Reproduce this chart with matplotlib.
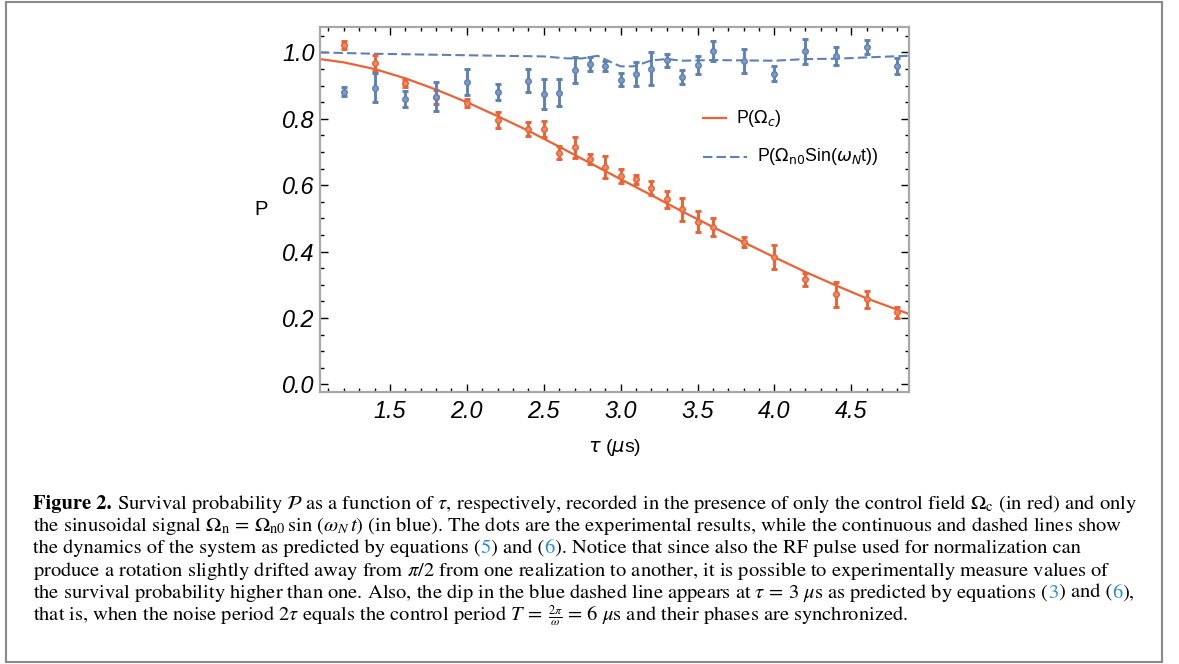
import matplotlib
matplotlib.use('Agg')
import matplotlib.pyplot as plt
from matplotlib.patches import Rectangle
from matplotlib.lines import Line2D
from matplotlib.ticker import MultipleLocator

# Measured points (tau in us), shared by both data sets
tau = [1.2, 1.4, 1.6, 1.8, 2.0, 2.2, 2.4, 2.5, 2.6, 2.7, 2.8, 2.9, 3.0,
       3.1, 3.2, 3.3, 3.4, 3.5, 3.6, 3.8, 4.0, 4.2, 4.4, 4.6, 4.8]

red_p = [1.023, 0.968, 0.908, 0.866, 0.849, 0.797, 0.769, 0.769, 0.698, 0.714, 0.678, 0.654, 0.627,
         0.618, 0.591, 0.558, 0.527, 0.490, 0.475, 0.428, 0.383, 0.317, 0.271, 0.256, 0.217]
red_err = [0.012, 0.023, 0.012, 0.020, 0.012, 0.024, 0.021, 0.024, 0.019, 0.032, 0.015, 0.033, 0.021,
           0.013, 0.021, 0.026, 0.035, 0.032, 0.027, 0.015, 0.036, 0.020, 0.038, 0.026, 0.016]

blue_p = [0.882, 0.894, 0.860, 0.867, 0.910, 0.882, 0.915, 0.875, 0.879, 0.946, 0.965, 0.959, 0.918,
          0.935, 0.951, 0.976, 0.926, 0.961, 1.003, 0.973, 0.936, 1.003, 0.990, 1.016, 0.958]
blue_err = [0.013, 0.043, 0.025, 0.044, 0.039, 0.024, 0.034, 0.046, 0.041, 0.039, 0.022, 0.015, 0.020,
            0.037, 0.050, 0.020, 0.022, 0.027, 0.030, 0.036, 0.023, 0.038, 0.027, 0.021, 0.024]

# Theory curves
red_curve_x = [1.045, 1.2, 1.4, 1.6, 1.8, 2.0, 2.2, 2.4, 2.6, 2.8, 3.0, 3.2, 3.4,
               3.6, 3.8, 4.0, 4.2, 4.4, 4.6, 4.875]
red_curve_y = [0.980, 0.970, 0.950, 0.922, 0.888, 0.850, 0.808, 0.764, 0.716, 0.667, 0.618, 0.570, 0.521,
               0.474, 0.428, 0.383, 0.339, 0.298, 0.259, 0.212]

blue_curve_x = [1.045, 1.4, 1.8, 2.2, 2.5, 2.65, 2.75, 2.85, 2.95, 3.0, 3.08, 3.15, 3.2, 3.3,
                3.4, 3.5, 3.6, 3.8, 4.0, 4.2, 4.4, 4.6, 4.875]
blue_curve_y = [1.000, 0.996, 0.993, 0.990, 0.988, 0.982, 0.982, 0.990, 0.968, 0.958, 0.958, 0.968, 0.976, 0.980,
                0.975, 0.976, 0.977, 0.976, 0.975, 0.980, 0.981, 0.985, 0.990]

xticks = [1.5, 2.0, 2.5, 3.0, 3.5, 4.0, 4.5]
xtick_labels = ['1.5', '2.0', '2.5', '3.0', '3.5', '4.0', '4.5']
yticks = [0.0, 0.2, 0.4, 0.6, 0.8, 1.0]
ytick_labels = ['0.0', '0.2', '0.4', '0.6', '0.8', '1.0']

RED = '#eb6235'
BLUE = '#5e81b5'
LINK = '#2a8fd4'

W, H = 1179, 664
fig = plt.figure(figsize=(W / 100, H / 100), dpi=100)
fig.patch.set_facecolor('white')

# outer frame of the figure block
fig.patches.append(Rectangle((6 / W, 1 - 661.5 / H), 1156 / W, 660 / H,
                             transform=fig.transFigure, fill=False,
                             ec='#8a8a8a', lw=1.5))

ax = fig.add_axes([320 / W, 1 - 392 / H, 589 / W, 365 / H])

ax.plot(red_curve_x, red_curve_y, color=RED, lw=1.6, zorder=2)
ax.plot(blue_curve_x, blue_curve_y, color=BLUE, lw=1.5, dashes=(4.5, 2.0), zorder=2)

ax.errorbar(tau, red_p, yerr=red_err, fmt='o', color=RED, ms=4, mec=RED, mfc='#f08a63',
            elinewidth=2.1, capsize=2.1, capthick=2.1, zorder=3)
ax.errorbar(tau, blue_p, yerr=blue_err, fmt='o', color=BLUE, ms=4, mec=BLUE, mfc='#7f9bc6',
            elinewidth=2.1, capsize=2.1, capthick=2.1, zorder=3)

ax.set_xlim(1.045, 4.875)
ax.set_ylim(-0.023, 1.0766)

tick_font = dict(family='Liberation Sans', fontstyle='italic', fontsize=16.8)
ax.set_xticks(xticks, xtick_labels, **tick_font)
ax.set_yticks(yticks, ytick_labels, **tick_font)
ax.xaxis.set_minor_locator(MultipleLocator(0.1))
ax.yaxis.set_minor_locator(MultipleLocator(0.05))
ax.tick_params(which='both', direction='in', top=True, right=True, color='black', width=1.0)
ax.tick_params(which='major', length=5.5)
ax.tick_params(which='minor', length=2.8)
ax.tick_params(axis='x', pad=6)
ax.tick_params(axis='y', pad=4)
for sp in ax.spines.values():
    sp.set_color('#a8a8a8')
    sp.set_linewidth(1.6)

ax.set_ylabel('P', family='Liberation Sans', fontsize=14.5, rotation=0, va='center', ha='center')
ax.yaxis.set_label_coords((261 - 320) / 589, 0.5)
ax.set_xlabel(r'$\tau$ ($\mu$s)', family='Liberation Sans', fontsize=14, va='center',
              math_fontfamily='dejavusans')
ax.xaxis.set_label_coords(0.5, (392 - 447) / 365)

# legend, drawn by hand so the two samples keep their own lengths
leg_font = dict(family='Liberation Sans', fontsize=12.8, va='center', math_fontfamily='dejavusans')
ax.add_line(Line2D([0.650, 0.689], [0.750, 0.750], transform=ax.transAxes, color=RED, lw=1.6))
ax.text(0.706, 0.750, r'P($\Omega_c$)', transform=ax.transAxes, **leg_font)
ax.add_line(Line2D([0.650, 0.725], [0.645, 0.645], transform=ax.transAxes, color=BLUE, lw=1.5,
                   dashes=(4.5, 2.0)))
ax.text(0.742, 0.645, r'P($\Omega_{\rm n0}$Sin($\omega_N$t))', transform=ax.transAxes, **leg_font)

# caption: each line is a run of (text, colour, weight, relative size) pieces
CAP_SIZE = 14.75
caption = [
    [('Figure 2.', 'k', 'bold', 1.0),
     (r' Survival probability $\mathcal{P}$ as a function of $\tau$, respectively, recorded in the '
      r'presence of only the control field $\Omega_{\rm c}$ (in red) and only', 'k', 'normal', 1.0)],
    [(r'the sinusoidal signal $\Omega_{\rm n}\,=\,\Omega_{\rm n0}\,\sin\,(\omega_N\,t)$ (in blue). '
      r'The dots are the experimental results, while the continuous and dashed lines show', 'k', 'normal', 1.0)],
    [('the dynamics of the system as predicted by equations (', 'k', 'normal', 1.0), ('5', LINK, 'normal', 1.0),
     (') and (', 'k', 'normal', 1.0), ('6', LINK, 'normal', 1.0),
     ('). Notice that since also the RF pulse used for normalization can', 'k', 'normal', 1.0)],
    [(r'produce a rotation slightly drifted away from $\pi/2$ from one realization to another, '
      r'it is possible to experimentally measure values of', 'k', 'normal', 1.0)],
    [(r'the survival probability higher than one. Also, the dip in the blue dashed line appears at '
      r'$\tau\,=\,3\ \mu$s as predicted by equations (', 'k', 'normal', 1.0), ('3', LINK, 'normal', 1.0),
     (') and (', 'k', 'normal', 1.0), ('6', LINK, 'normal', 1.0), ('),', 'k', 'normal', 1.0)],
    [(r'that is, when the noise period $2\tau$ equals the control period $T\,=$', 'k', 'normal', 1.0),
     (r' $\frac{2\pi}{\omega}$', 'k', 'normal', 0.85),
     (r'$\,=\,6\ \mu$s and their phases are synchronized.', 'k', 'normal', 1.0)],
]
baselines = [509, 531.2, 553.4, 575.6, 597.8, 620.5]

renderer = fig.canvas.get_renderer()
space_px = CAP_SIZE * 100 / 72 * 0.25
for line, yb in zip(caption, baselines):
    x = 33.0
    for s, col, wt, rel in line:
        if s.startswith(' '):
            x += space_px
            s = s[1:]
        t = fig.text(x / W, 1 - yb / H, s, color=col, weight=wt, family='STIXGeneral',
                     fontsize=CAP_SIZE * rel, math_fontfamily='stix', va='baseline')
        x += t.get_window_extent(renderer).width

fig.savefig('out.png', dpi=100, facecolor='white')
